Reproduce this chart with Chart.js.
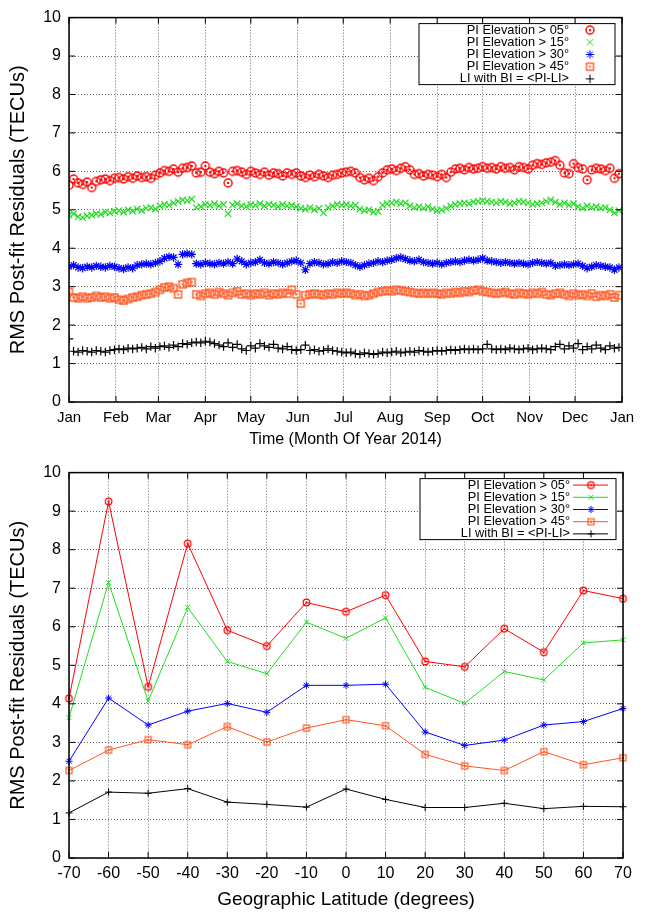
<!DOCTYPE html>
<html>
<head>
<meta charset="utf-8">
<script src="https://cdn.jsdelivr.net/npm/chart.js@4.4.0/dist/chart.umd.min.js"></script>
<style>
  body { margin: 0; background: #fff; width: 646px; height: 913px; overflow: hidden; }
  canvas { position: absolute; left: 0; }
  #timeChart { top: 0; }
  #latChart { top: 455px; }
</style>
</head>
<body>
<canvas id="timeChart" width="646" height="455"></canvas>
<canvas id="latChart" width="646" height="458"></canvas>
<script>
// series names (same in both panels)
const seriesNames = ['PI Elevation > 05°', 'PI Elevation > 15°', 'PI Elevation > 30°', 'PI Elevation > 45°', 'LI with BI = <PI-LI>'];

// top panel: one value every 3 days of 2014
const dayStep = 3;
const monthTicks = [0, 31, 59, 90, 120, 151, 181, 212, 243, 273, 304, 334, 365];
const monthLabels = ['Jan', 'Feb', 'Mar', 'Apr', 'May', 'Jun', 'Jul', 'Aug', 'Sep', 'Oct', 'Nov', 'Dec', 'Jan'];

const elev05 = [
  5.64, 5.80, 5.70, 5.66, 5.72, 5.58, 5.74, 5.78, 5.80, 5.76, 5.82,
  5.84, 5.80, 5.86, 5.82, 5.88, 5.84, 5.86, 5.82, 5.90, 5.96,
  6.02, 6.00, 6.06, 5.98, 6.08, 6.10, 6.14, 5.96, 5.98, 6.14,
  5.98, 5.94, 6.00, 5.96, 5.70, 6.00, 6.02, 5.98, 5.92, 6.00,
  5.96, 5.92, 5.98, 5.90, 5.96, 5.94, 5.88, 5.96, 5.92, 5.96,
  5.88, 5.84, 5.90, 5.86, 5.92, 5.88, 5.84, 5.90, 5.92, 5.96,
  5.98, 6.00, 5.96, 5.84, 5.78, 5.82, 5.76, 5.86, 5.96, 6.04,
  6.06, 6.02, 6.08, 6.12, 6.04, 5.92, 5.94, 5.88, 5.92, 5.90,
  5.86, 5.92, 5.84, 5.98, 6.06, 6.08, 6.04, 6.10, 6.06, 6.08,
  6.12, 6.08, 6.10, 6.06, 6.12, 6.08, 6.10, 6.04, 6.12, 6.10,
  6.06, 6.16, 6.20, 6.18, 6.22, 6.24, 6.28, 6.16, 5.96, 5.94,
  6.20, 6.10, 6.06, 5.78, 6.04, 6.08, 6.06, 6.02, 6.08, 5.82, 5.94
];
const elev15 = [
  4.86, 4.90, 4.82, 4.80, 4.84, 4.86, 4.90, 4.88, 4.94, 4.92, 4.96,
  4.98, 4.94, 5.00, 4.96, 5.02, 4.98, 5.04, 5.06, 5.02, 5.10,
  5.14, 5.12, 5.18, 5.22, 5.26, 5.24, 5.28, 5.06, 5.08, 5.14,
  5.12, 5.16, 5.10, 5.14, 4.90, 5.12, 5.16, 5.10, 5.08, 5.14,
  5.12, 5.16, 5.10, 5.14, 5.12, 5.08, 5.14, 5.10, 5.12, 5.08,
  5.04, 5.02, 5.06, 5.00, 5.04, 4.92, 5.06, 5.10, 5.14, 5.12,
  5.14, 5.10, 5.12, 5.02, 4.98, 5.00, 4.94, 4.96, 5.12, 5.16,
  5.18, 5.20, 5.16, 5.18, 5.10, 5.06, 5.08, 5.04, 5.08, 5.02,
  4.98, 5.00, 5.04, 5.10, 5.14, 5.16, 5.18, 5.16, 5.20, 5.22,
  5.24, 5.22, 5.20, 5.18, 5.22, 5.20, 5.16, 5.18, 5.22, 5.20,
  5.18, 5.14, 5.16, 5.18, 5.22, 5.26, 5.20, 5.14, 5.18, 5.12,
  5.16, 5.08, 5.04, 5.10, 5.06, 5.08, 5.04, 5.06, 5.00, 4.92, 4.98
];
const elev30 = [
  3.52, 3.56, 3.50, 3.48, 3.52, 3.50, 3.54, 3.52, 3.50, 3.54, 3.52,
  3.48, 3.46, 3.50, 3.48, 3.56, 3.58, 3.60, 3.58, 3.62, 3.66,
  3.74, 3.78, 3.76, 3.58, 3.84, 3.86, 3.84, 3.60, 3.58, 3.62,
  3.60, 3.58, 3.62, 3.60, 3.64, 3.60, 3.72, 3.66, 3.58, 3.62,
  3.64, 3.70, 3.62, 3.60, 3.64, 3.62, 3.58, 3.62, 3.66, 3.68,
  3.62, 3.44, 3.60, 3.64, 3.62, 3.58, 3.60, 3.64, 3.62, 3.66,
  3.64, 3.62, 3.56, 3.52, 3.56, 3.60, 3.62, 3.66, 3.64, 3.68,
  3.70, 3.74, 3.76, 3.72, 3.68, 3.66, 3.70, 3.64, 3.62, 3.60,
  3.62, 3.58, 3.62, 3.64, 3.66, 3.64, 3.68, 3.70, 3.68, 3.70,
  3.74, 3.68, 3.66, 3.64, 3.62, 3.64, 3.62, 3.60, 3.62, 3.60,
  3.58, 3.62, 3.64, 3.62, 3.60, 3.62, 3.54, 3.56, 3.58, 3.56,
  3.58, 3.60, 3.54, 3.48, 3.52, 3.56, 3.54, 3.52, 3.50, 3.44, 3.50
];
const elev45 = [
  2.86, 2.72, 2.70, 2.74, 2.70, 2.72, 2.76, 2.72, 2.74, 2.70, 2.72,
  2.66, 2.64, 2.68, 2.72, 2.74, 2.78, 2.80, 2.82, 2.86, 2.92,
  2.98, 3.00, 2.96, 2.80, 3.06, 3.10, 3.12, 2.80, 2.76, 2.82,
  2.84, 2.80, 2.86, 2.82, 2.78, 2.84, 2.88, 2.80, 2.82, 2.78,
  2.82, 2.80, 2.84, 2.78, 2.82, 2.80, 2.84, 2.82, 2.92, 2.80,
  2.56, 2.78, 2.80, 2.82, 2.80, 2.78, 2.82, 2.80, 2.84, 2.82,
  2.84, 2.82, 2.78, 2.80, 2.76, 2.78, 2.82, 2.86, 2.88, 2.90,
  2.88, 2.92, 2.90, 2.88, 2.86, 2.84, 2.82, 2.84, 2.82, 2.84,
  2.82, 2.80, 2.84, 2.82, 2.86, 2.84, 2.88, 2.86, 2.90, 2.92,
  2.88, 2.86, 2.84, 2.82, 2.84, 2.86, 2.82, 2.80, 2.84, 2.82,
  2.80, 2.84, 2.82, 2.86, 2.80, 2.78, 2.82, 2.84, 2.80, 2.76,
  2.82, 2.78, 2.80, 2.76, 2.82, 2.74, 2.78, 2.76, 2.80, 2.72, 2.78
];
const liBi = [
  1.64, 1.32, 1.30, 1.34, 1.32, 1.30, 1.34, 1.32, 1.30, 1.34, 1.36,
  1.38, 1.36, 1.40, 1.38, 1.40, 1.42, 1.38, 1.44, 1.40, 1.44,
  1.46, 1.42, 1.48, 1.44, 1.52, 1.50, 1.54, 1.56, 1.54, 1.58,
  1.56, 1.52, 1.48, 1.44, 1.54, 1.42, 1.50, 1.38, 1.34, 1.46,
  1.40, 1.52, 1.46, 1.42, 1.50, 1.40, 1.38, 1.44, 1.36, 1.34,
  1.36, 1.48, 1.34, 1.36, 1.32, 1.34, 1.38, 1.34, 1.32, 1.30,
  1.28, 1.30, 1.26, 1.24, 1.28, 1.26, 1.24, 1.26, 1.30, 1.28,
  1.30, 1.32, 1.28, 1.30, 1.32, 1.30, 1.34, 1.32, 1.30, 1.32,
  1.34, 1.32, 1.34, 1.36, 1.34, 1.36, 1.38, 1.36, 1.38, 1.36,
  1.38, 1.50, 1.38, 1.36, 1.38, 1.36, 1.40, 1.38, 1.36, 1.38,
  1.40, 1.36, 1.38, 1.40, 1.38, 1.36, 1.44, 1.50, 1.38, 1.46,
  1.40, 1.52, 1.36, 1.44, 1.38, 1.48, 1.40, 1.36, 1.46, 1.40, 1.42
];

// bottom panel: by latitude
const latitudes = [-70, -60, -50, -40, -30, -20, -10, 0, 10, 20, 30, 40, 50, 60, 70];
const latElev05 = [4.14, 9.25, 4.44, 8.16, 5.91, 5.50, 6.63, 6.39, 6.82, 5.10, 4.96, 5.95, 5.34, 6.94, 6.73];
const latElev15 = [3.64, 7.15, 4.07, 6.50, 5.10, 4.78, 6.12, 5.70, 6.23, 4.43, 4.01, 4.84, 4.62, 5.58, 5.66];
const latElev30 = [2.51, 4.15, 3.45, 3.81, 4.01, 3.78, 4.48, 4.48, 4.51, 3.27, 2.92, 3.06, 3.45, 3.54, 3.88];
const latElev45 = [2.27, 2.80, 3.07, 2.94, 3.41, 3.01, 3.37, 3.59, 3.43, 2.69, 2.39, 2.27, 2.76, 2.42, 2.60];
const latLiBi   = [1.17, 1.71, 1.68, 1.80, 1.45, 1.39, 1.32, 1.79, 1.52, 1.31, 1.31, 1.42, 1.28, 1.34, 1.33];

const FONT = '"Liberation Sans", Arial, sans-serif';
const colors = ['#ff0000', '#22dd22', '#0000ff', '#ff5722', '#000000'];

// gnuplot style markers with a centre dot
function dotMarker(color, shape, r, lw) {
    const size = Math.ceil(r * 2 + 4);
    const c = document.createElement('canvas');
    c.width = size; c.height = size;
    const g = c.getContext('2d');
    const m = size / 2;
    g.strokeStyle = color;
    g.fillStyle = color;
    g.lineWidth = lw;
    if (shape === 'circle') {
        g.beginPath();
        g.arc(m, m, r, 0, Math.PI * 2);
        g.stroke();
    } else {
        g.strokeRect(m - r, m - r, 2 * r, 2 * r);
    }
    g.fillRect(m - 1, m - 1, 2, 2);
    return c;
}
const timeMarkers = [dotMarker(colors[0], 'circle', 4, 1.4), 'crossRot', 'star', dotMarker(colors[3], 'rect', 3.5, 1.4), 'cross'];
const latMarkers = [dotMarker(colors[0], 'circle', 3.3, 1.2), 'crossRot', 'star', dotMarker(colors[3], 'rect', 3, 1.2), 'cross'];

// frame with inward tick marks on all four sides
const framePlugin = {
    id: 'frame',
    afterDatasetsDraw(chart) {
        const { ctx, chartArea: a, scales } = chart;
        ctx.save();
        ctx.strokeStyle = '#000';
        ctx.lineWidth = 1.5;
        ctx.strokeRect(a.left, a.top, a.right - a.left, a.bottom - a.top);
        ctx.lineWidth = 1;
        ctx.beginPath();
        scales.y.ticks.forEach((t, i) => {
            const y = scales.y.getPixelForTick(i);
            ctx.moveTo(a.left, y); ctx.lineTo(a.left + 6, y);
            ctx.moveTo(a.right, y); ctx.lineTo(a.right - 6, y);
        });
        scales.x.ticks.forEach((t, i) => {
            const x = scales.x.getPixelForTick(i);
            ctx.moveTo(x, a.bottom); ctx.lineTo(x, a.bottom - 6);
            ctx.moveTo(x, a.top); ctx.lineTo(x, a.top + 6);
        });
        ctx.stroke();
        ctx.restore();
    }
};

// legend box inside the plot, top right
const legendPlugin = {
    id: 'boxLegend',
    afterDraw(chart, args, opts) {
        const { ctx, chartArea: a } = chart;
        const right = a.right - 7, top = a.top + 6, w = 196, h = 61, rowH = 12.2;
        ctx.save();
        ctx.fillStyle = '#fff';
        ctx.fillRect(right - w, top, w, h);
        ctx.strokeStyle = '#000';
        ctx.lineWidth = 1;
        ctx.strokeRect(right - w, top, w, h);
        ctx.font = '12.8px ' + FONT;
        ctx.textAlign = 'right';
        ctx.textBaseline = 'middle';
        chart.data.datasets.forEach((ds, i) => {
            const y = top + 6.5 + i * rowH;
            ctx.fillStyle = '#000';
            ctx.fillText(ds.label, right - 46, y);
            ctx.strokeStyle = ds.borderColor;
            if (opts.lines) {
                ctx.lineWidth = 1;
                ctx.beginPath();
                ctx.moveTo(right - 43, y);
                ctx.lineTo(right - 8, y);
                ctx.stroke();
            }
            ctx.fillStyle = 'rgba(0,0,0,0)';
            Chart.helpers.drawPoint(ctx, { pointStyle: ds.pointStyle, radius: ds.pointRadius, borderWidth: 1, rotation: 0 }, right - 25, y);
        });
        ctx.restore();
    }
};

function yAxis() {
    return {
        min: 0,
        max: 10,
        ticks: { stepSize: 1, color: '#000', font: { family: FONT, size: 16 }, padding: 8 },
        grid: { color: 'rgba(0,0,0,0.6)', lineWidth: 1, drawTicks: false },
        border: { display: false, dash: [1, 2] },
        title: { display: true, text: 'RMS Post-fit Residuals (TECUs)', color: '#000', font: { family: FONT, size: 20 }, padding: { top: 6, bottom: 0 } },
        afterFit: s => { s.width = 69; }
    };
}

const timeSeries = [elev05, elev15, elev30, elev45, liBi];
const pointSizes = [4, 4.5, 4.2, 4.5, 4.2];

new Chart(document.getElementById('timeChart'), {
    type: 'scatter',
    data: {
        datasets: timeSeries.map((arr, k) => ({
            label: seriesNames[k],
            data: arr.map((v, i) => ({ x: i * dayStep, y: v })),
            borderColor: colors[k],
            backgroundColor: 'rgba(0,0,0,0)',
            pointStyle: timeMarkers[k],
            pointRadius: pointSizes[k],
            pointBorderWidth: 1.2,
            showLine: false
        }))
    },
    options: {
        responsive: false,
        animation: false,
        layout: { padding: { top: 17, right: 24, left: 0, bottom: 0 } },
        plugins: { legend: { display: false }, tooltip: { enabled: false }, boxLegend: { lines: false } },
        scales: {
            x: {
                type: 'linear',
                min: 0,
                max: 365,
                afterBuildTicks: s => { s.ticks = monthTicks.map(v => ({ value: v })); },
                ticks: { autoSkip: false, maxRotation: 0, color: '#000', font: { family: FONT, size: 15 }, padding: 7,
                    callback: (v, i) => monthLabels[i] },
                grid: { color: 'rgba(0,0,0,0.6)', lineWidth: 1, drawTicks: false },
                border: { display: false, dash: [1, 2] },
                title: { display: true, text: 'Time (Month Of Year 2014)', color: '#000', font: { family: FONT, size: 16 }, padding: { top: 0, bottom: 6 } },
                afterFit: s => { s.height = 53; }
            },
            y: yAxis()
        }
    },
    plugins: [framePlugin, legendPlugin]
});

const latSeries = [latElev05, latElev15, latElev30, latElev45, latLiBi];

new Chart(document.getElementById('latChart'), {
    type: 'line',
    data: {
        labels: latitudes.map(String),
        datasets: latSeries.map((arr, k) => ({
            label: seriesNames[k],
            data: arr,
            borderColor: colors[k],
            backgroundColor: 'rgba(0,0,0,0)',
            borderWidth: 1,
            pointStyle: latMarkers[k],
            pointRadius: 3.5,
            pointBorderWidth: 1,
            tension: 0
        }))
    },
    options: {
        responsive: false,
        animation: false,
        layout: { padding: { top: 17, right: 23, left: 0, bottom: 0 } },
        plugins: { legend: { display: false }, tooltip: { enabled: false }, boxLegend: { lines: true } },
        scales: {
            x: {
                type: 'category',
                offset: false,
                ticks: { autoSkip: false, maxRotation: 0, color: '#000', font: { family: FONT, size: 16 }, padding: 6 },
                grid: { color: 'rgba(0,0,0,0.6)', lineWidth: 1, drawTicks: false, offset: false },
                border: { display: false, dash: [1, 2] },
                title: { display: true, text: 'Geographic Latitude (degrees)', color: '#000', font: { family: FONT, size: 19 }, padding: { top: 0, bottom: 2 } },
                afterFit: s => { s.height = 55; }
            },
            y: yAxis()
        }
    },
    plugins: [framePlugin, legendPlugin]
});
</script>
</body>
</html>
